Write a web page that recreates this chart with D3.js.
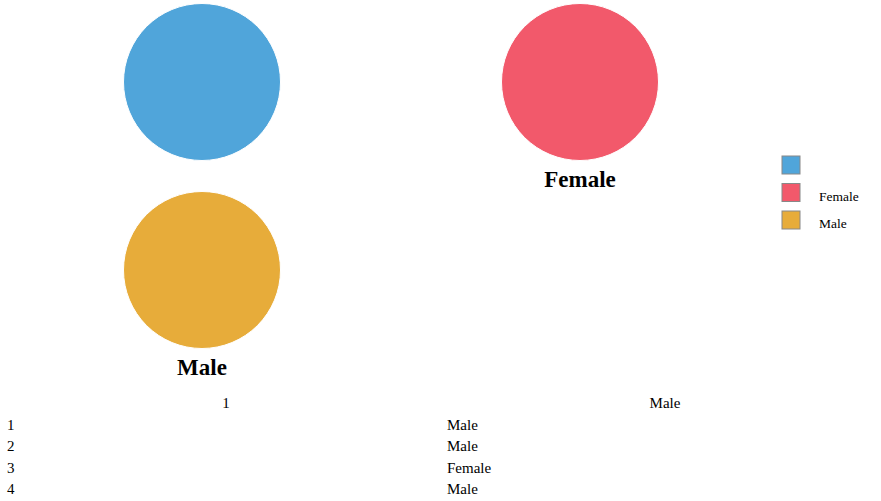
<!DOCTYPE html>
<html><head><meta charset="utf-8">
<script src="https://cdn.jsdelivr.net/npm/d3@7/dist/d3.min.js"></script>
<style>body{margin:0;background:#fff;font-family:"Liberation Serif","Times New Roman",serif;}</style>
</head><body><svg id="c" width="881" height="501"></svg>
<script>
const categories = ["", "Female", "Male"];
const values = [1, 1, 1];
const colors = ["#50a5da", "#f2596b", "#e7ac3a"];
const tableHeader = ["1", "Male"];
const tableIndex = ["1", "2", "3", "4"];
const tableValues = ["Male", "Male", "Female", "Male"];

const svg = d3.select("#c");
const col = d3.scaleOrdinal().domain([0, 1]).range([202, 580]);
const row = d3.scaleOrdinal().domain([0, 1]).range([82, 270]);
const color = d3.scaleOrdinal().domain(categories).range(colors);
const pie = d3.pie().sort(null);
const arc = d3.arc().innerRadius(0).outerRadius(78.5);

categories.forEach((c, i) => {
  const g = svg.append("g").attr("transform", `translate(${col(i % 2)},${row(Math.floor(i / 2))})`);
  g.selectAll("path").data(pie([values[i]])).join("path")
    .attr("d", arc).attr("fill", color(c)).attr("stroke", "#fff").attr("stroke-width", 1);
  g.append("text").attr("y", 105).attr("text-anchor", "middle")
    .attr("font-size", 23).attr("font-weight", "bold").attr("fill", "#000").text(c);
});

const leg = svg.append("g").attr("transform", "translate(782,156)");
const ly = d3.scaleBand().domain(categories).range([0, 82.5]);
categories.forEach(c => {
  leg.append("rect").attr("x", 0).attr("y", ly(c)).attr("width", 18).attr("height", 18)
    .attr("fill", color(c)).attr("stroke", "#888").attr("stroke-width", 1);
  leg.append("text").attr("x", 37).attr("y", ly(c) + 17)
    .attr("font-size", 13.5).attr("fill", "#000").text(c);
});

const tx = d3.scaleOrdinal().domain([0, 1]).range([226, 665]);
svg.append("g").selectAll("text").data(tableHeader).join("text")
  .attr("x", (d, i) => tx(i)).attr("y", 408).attr("text-anchor", "middle")
  .attr("font-size", 15).text(d => d);
const ry = d3.scalePoint().domain(tableIndex).range([430, 494]);
svg.append("g").selectAll("text").data(tableIndex).join("text")
  .attr("x", 7).attr("y", d => ry(d)).attr("font-size", 15).text(d => d);
svg.append("g").selectAll("text").data(tableValues).join("text")
  .attr("x", 447).attr("y", (d, i) => ry(tableIndex[i])).attr("font-size", 15).text(d => d);
</script></body></html>
